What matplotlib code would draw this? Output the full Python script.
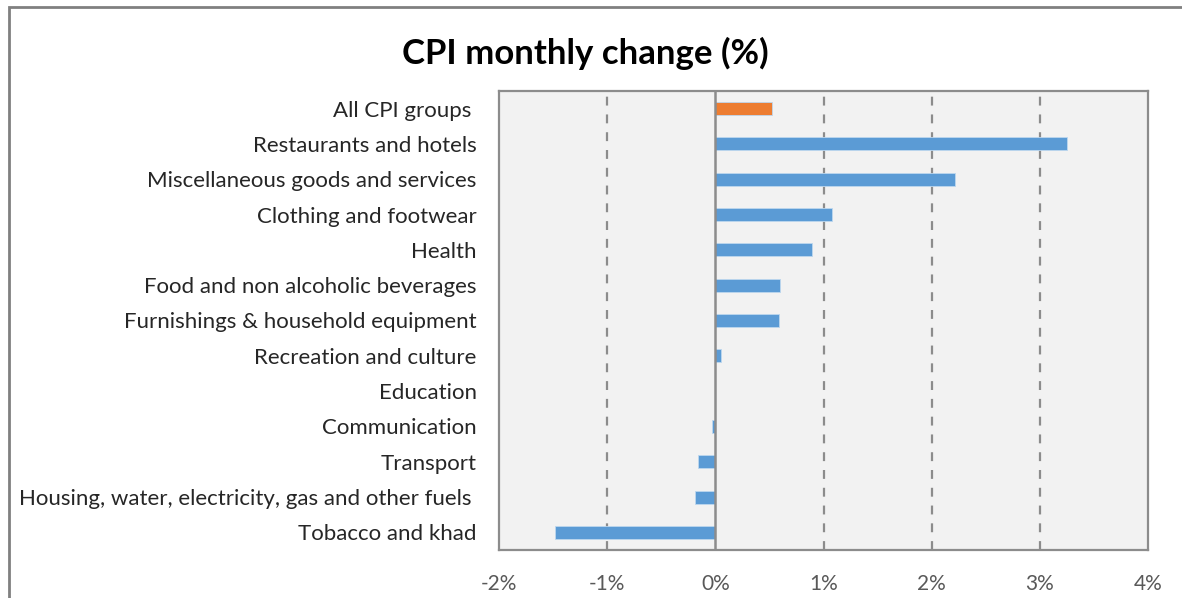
import matplotlib
matplotlib.use("Agg")
import matplotlib.pyplot as plt
from matplotlib.patches import Rectangle
from matplotlib.ticker import FuncFormatter

plt.rcParams['font.family'] = ['Lato', 'DejaVu Sans']

# CPI groups, top to bottom as shown
categories = [
    "All CPI groups ",
    "Restaurants and hotels",
    "Miscellaneous goods and services",
    "Clothing and footwear",
    "Health",
    "Food and non alcoholic beverages",
    "Furnishings & household equipment",
    "Recreation and culture",
    "Education",
    "Communication",
    "Transport",
    "Housing, water, electricity, gas and other fuels ",
    "Tobacco and khad",
]
changes = [0.52, 3.25, 2.22, 1.08, 0.89, 0.60, 0.59, 0.05, 0.0, -0.03, -0.16, -0.19, -1.48]
bar_colors = ["#ED7D31"] + ["#5B9BD5"] * (len(categories) - 1)
xticks = [-2, -1, 0, 1, 2, 3, 4]

fig = plt.figure(figsize=(11.82, 5.98), dpi=100)
ax = fig.add_axes([499 / 1182, 1 - 550 / 598, (1148 - 499) / 1182, (550 - 91) / 598])
ax.set_facecolor("#F2F2F2")

ypos = list(range(len(categories)))[::-1]
ax.barh(ypos, changes, height=0.37, color=bar_colors, edgecolor="#BDD7EE",
        linewidth=0.6, zorder=3)

ax.set_xlim(-2, 4)
ax.set_ylim(-0.5, len(categories) - 0.5)
ax.set_xticks(xticks)
ax.xaxis.set_major_formatter(FuncFormatter(lambda v, p: f"{v:.0f}%"))
ax.set_yticks(ypos)
ax.set_yticklabels(categories)
ax.tick_params(axis="x", length=0, pad=17, labelsize=15, labelcolor="#595959")
ax.tick_params(axis="y", length=0, pad=16, labelsize=16, labelcolor="#262626")

for x in xticks[1:-1]:
    if x == 0:
        continue
    ax.axvline(x, color="#8C8C8C", linestyle=(0, (4, 4)), linewidth=1.6, zorder=1)
ax.axvline(0, color="#8C8C8C", linewidth=1.8, zorder=4)

for s in ax.spines.values():
    s.set_color("#8C8C8C")
    s.set_linewidth(1.6)

fig.text(585 / 1182, 1 - 53 / 598, "CPI monthly change (%)", ha="center", va="center",
         fontsize=25, fontweight="bold", color="#000000")

# outer chart border (runs off the right and bottom edges)
fig.patches.append(Rectangle((9 / 1182, -0.05), 1.2, 1 - 7 / 598 + 0.05,
                             transform=fig.transFigure, fill=False,
                             edgecolor="#808080", linewidth=2))

fig.savefig("out.png", dpi=100)
